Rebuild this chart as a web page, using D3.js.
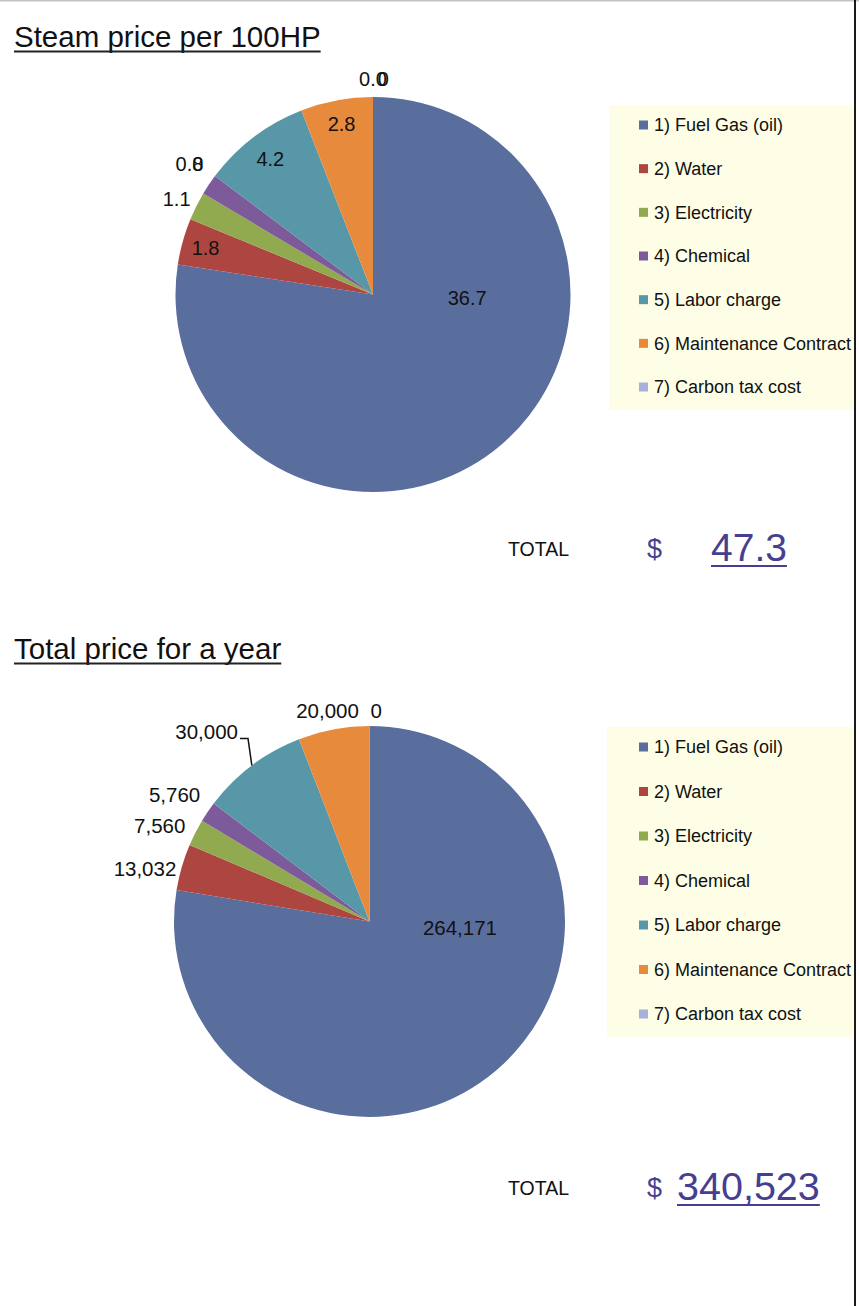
<!DOCTYPE html>
<html>
<head>
<meta charset="utf-8">
<script src="https://cdn.jsdelivr.net/npm/d3@7"></script>
<style>
  html, body { margin: 0; padding: 0; background: #fff; }
  svg { display: block; font-family: "Liberation Sans", Arial, sans-serif; }
</style>
</head>
<body>
<div id="main"></div>
<script>
// data
var categories = ["1) Fuel Gas (oil)", "2) Water", "3) Electricity", "4) Chemical",
                  "5) Labor charge", "6) Maintenance Contract", "7) Carbon tax cost"];
var steamValues = [36.7, 1.8, 1.1, 0.8, 4.2, 2.8, 0.0];
var yearValues = [264171, 13032, 7560, 5760, 30000, 20000, 0];
var steamTotal = 47.3;
var yearTotal = 340523;
var colors = ["#5a6e9e", "#ad4641", "#91a94f", "#7d5b9a", "#5897a8", "#e88a3c", "#a7b1d9"];

// label placement, [angle offset from slice middle (deg), radius factor]
var steamLabelPlace = [[-47.2, 0.477], [0, 0.88], [-0.7, 1.105], [1.6, 1.14], [0, 0.86], [0.2, 0.88], [0, 1.09]];
var yearLabelPlace = [[-45.5, 0.464], [-2.9, 1.18], [-2.5, 1.18], [-1.0, 1.19], [-3.6, 1.28], [-0.7, 1.098], [1.8, 1.077]];

function transform(x, y) {
  return "translate(" + x + "," + y + ")";
}

var W = 859, H = 1306;
var svg = d3.select("#main").append("svg").attr("width", W).attr("height", H);

// page border
svg.append("line").attr("x1", 0).attr("x2", W).attr("y1", 0.75).attr("y2", 0.75)
  .attr("stroke", "#c4c4c4").attr("stroke-width", 1.5);
svg.append("line").attr("x1", 855).attr("x2", 855).attr("y1", 0).attr("y2", H)
  .attr("stroke", "#1a1a1a").attr("stroke-width", 2);

function polar(cx, cy, a, r) {
  return [cx + r * Math.sin(a), cy - r * Math.cos(a)];
}

function drawPanel(opt) {
  var g = svg.append("g");

  // title, underlined
  var title = g.append("text").attr("x", 14).attr("y", opt.titleY)
    .attr("font-size", 29.5).attr("fill", "#111").text(opt.title);
  var tw = title.node().getComputedTextLength();
  g.append("line").attr("x1", 14).attr("x2", 14 + tw)
    .attr("y1", opt.titleY + 4.5).attr("y2", opt.titleY + 4.5)
    .attr("stroke", "#222").attr("stroke-width", 1.8);

  // pie
  var pie = d3.pie().sort(null).value(function(d) { return d; });
  var arcs = pie(opt.values);
  var arc = d3.arc().innerRadius(0).outerRadius(opt.r);

  var pg = g.append("g").attr("transform", transform(opt.cx, opt.cy));
  pg.selectAll("path").data(arcs).enter().append("path")
    .attr("d", arc)
    .attr("fill", function(d, i) { return colors[i]; });

  // labels
  arcs.forEach(function(d, i) {
    var place = opt.place[i];
    var a = (d.startAngle + d.endAngle) / 2 + place[0] * Math.PI / 180;
    var p = polar(0, 0, a, opt.r * place[1]);
    var t = pg.append("text")
      .attr("x", p[0]).attr("y", p[1]).attr("dy", "0.36em")
      .attr("text-anchor", "middle").attr("font-size", opt.labelSize)
      .attr("fill", "#111")
      .text(opt.fmt(opt.values[i]));

    if (opt.leader === i) {
      var bb = t.node().getBBox();
      var mid = (d.startAngle + d.endAngle) / 2;
      var edge = polar(0, 0, mid, opt.r);
      var sx = bb.x + bb.width + 2, sy = p[1] + 7;
      pg.append("path")
        .attr("d", "M" + sx + "," + sy + "L" + (sx + 8) + "," + sy + "L" + edge[0] + "," + edge[1])
        .attr("fill", "none").attr("stroke", "#111").attr("stroke-width", 1.5);
    }
    if (opt.ghost && opt.ghost[i] !== undefined) {
      // overlapping duplicate label as in the original
      var gt = pg.append("text")
        .attr("x", p[0] + opt.ghost[i]).attr("y", p[1]).attr("dy", "0.36em")
        .attr("text-anchor", "middle").attr("font-size", opt.labelSize)
        .attr("fill", "#111");
      gt.append("tspan").attr("fill-opacity", 0).text("0.");
      gt.append("tspan").text("0");
    }
  });

  // legend
  var lg = g.append("g");
  lg.append("rect").attr("x", opt.legX).attr("y", opt.legY)
    .attr("width", 854 - opt.legX).attr("height", opt.legH)
    .attr("fill", "#fefee6");
  var rowY = d3.scalePoint().domain(categories)
    .range([opt.legY + 20, opt.legY + opt.legH - 23]);
  var items = lg.selectAll("g.item").data(categories).enter().append("g")
    .attr("class", "item")
    .attr("transform", function(d) { return transform(639, rowY(d)); });
  items.append("rect").attr("x", 0).attr("y", -4.5).attr("width", 9).attr("height", 9)
    .attr("fill", function(d, i) { return colors[i]; });
  items.append("text").attr("x", 15).attr("dy", "0.36em")
    .attr("font-size", 18).attr("fill", "#111")
    .text(function(d) { return d; });

  // total
  g.append("text").attr("x", 508).attr("y", opt.totalY)
    .attr("font-size", 19.5).attr("fill", "#111").text("TOTAL");
  g.append("text").attr("x", 647).attr("y", opt.totalY + 1.5)
    .attr("font-size", 27).attr("fill", "#463f91").text("$");
  var tot = g.append("text").attr("x", opt.totX).attr("y", opt.totalY + 4.5)
    .attr("font-size", opt.totSize).attr("fill", "#463f91").text(opt.totalText);
  var totW = tot.node().getComputedTextLength();
  g.append("line").attr("x1", opt.totX).attr("x2", opt.totX + totW)
    .attr("y1", opt.totalY + 10).attr("y2", opt.totalY + 10)
    .attr("stroke", "#463f91").attr("stroke-width", 2.2);
}

var fmt1 = d3.format(".1f");
var fmtC = d3.format(",");

drawPanel({
  title: "Steam price per 100HP", titleY: 47,
  values: steamValues, cx: 373, cy: 294.5, r: 197.5,
  place: steamLabelPlace, labelSize: 20, fmt: fmt1,
  ghost: {3: 0, 6: 2},
  legX: 609, legY: 105, legH: 305,
  totalY: 556, totX: 711, totSize: 39, totalText: fmt1(steamTotal)
});

drawPanel({
  title: "Total price for a year", titleY: 659,
  values: yearValues, cx: 369.5, cy: 921.5, r: 195.5,
  place: yearLabelPlace, labelSize: 20.5, fmt: fmtC,
  leader: 4,
  legX: 607, legY: 727, legH: 310,
  totalY: 1195, totX: 677, totSize: 39.5, totalText: fmtC(yearTotal)
});
</script>
</body>
</html>
